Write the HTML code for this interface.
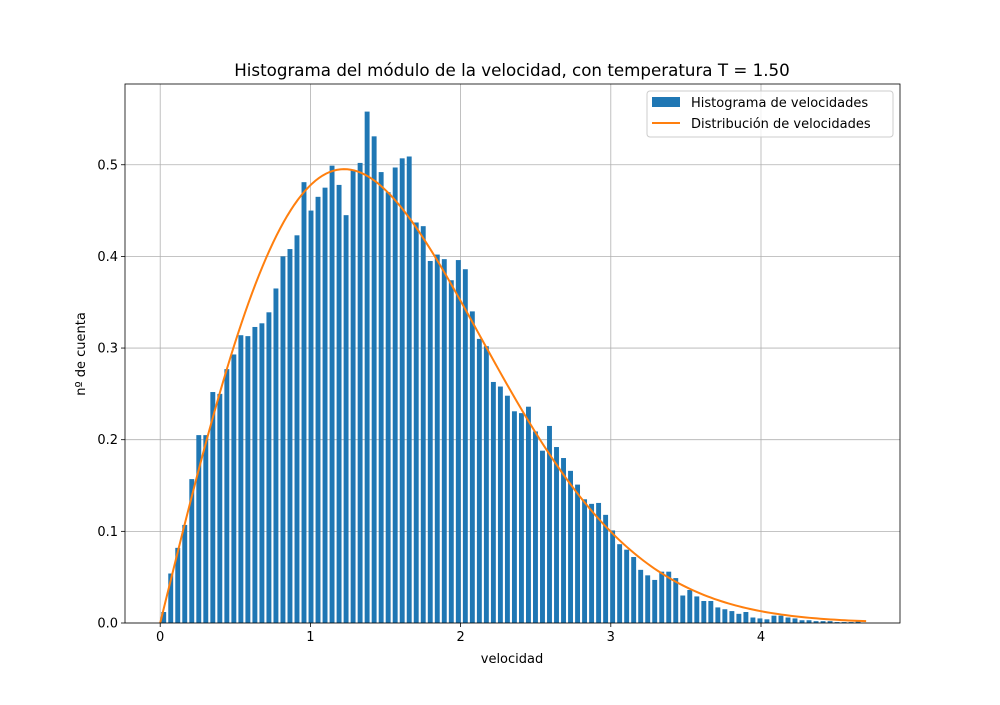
<!DOCTYPE html>
<html><head><meta charset="utf-8"><style>
body{margin:0;background:#fff;font-family:"Liberation Sans","DejaVu Sans",sans-serif}
svg text{font-family:"DejaVu Sans","Liberation Sans",sans-serif;fill:#000}
</style></head><body>
<svg id="chart" width="1000" height="700" xmlns="http://www.w3.org/2000/svg">
<rect width="1000" height="700" fill="#fff"/>
<g id="grid"></g><g id="bars"></g><g id="curve"></g><g id="axes"></g>
<text x="512" y="76" font-size="16.7" text-anchor="middle">Histograma del módulo de la velocidad, con temperatura T = 1.50</text>
<text x="512" y="663" font-size="13" text-anchor="middle">velocidad</text>
<text transform="translate(85,354) rotate(-90)" font-size="13" text-anchor="middle">nº de cuenta</text>
<g>
<rect x="647" y="91" width="246" height="46" fill="#fff" fill-opacity="0.8" stroke="#ccc" rx="3"/>
<rect x="652" y="97" width="28" height="10" fill="#1f77b4"/>
<text x="691" y="107" font-size="13">Histograma de velocidades</text>
<line x1="652" y1="123" x2="680" y2="123" stroke="#ff7f0e" stroke-width="2"/>
<text x="691" y="128" font-size="13">Distribución de velocidades</text>
</g>
</svg>
<script>
const binWidth = 0.0467;
const counts = [0.012,0.054,0.082,0.107,0.157,0.205,0.205,0.252,0.25,0.277,0.293,0.314,0.313,0.323,0.327,0.339,0.365,0.4,0.408,0.423,0.481,0.45,0.465,0.475,0.499,0.478,0.445,0.494,0.502,0.558,0.531,0.492,0.47,0.497,0.507,0.509,0.437,0.433,0.395,0.402,0.397,0.374,0.396,0.386,
0.34,0.31,0.302,0.263,0.258,0.248,0.231,0.229,0.236,0.209,0.188,0.215,0.192,0.18,0.166,0.151,0.135,0.13,0.131,0.118,
0.101,0.086,0.08,0.072,0.058,0.052,0.047,0.056,0.056,0.049,0.03,0.036,0.029,0.024,0.024,0.017,0.015,0.013,0.01,0.012,0.006,0.005,0.004,0.008,0.008,0.006,0.005,0.003,0.003,0.002,0.002,0.002,0.001,0.001,0.001,0.002];
const temperature = 1.5;
const curveMax = 4.7;
const xTicks = [0,1,2,3,4];
const yTicks = [0,0.1,0.2,0.3,0.4,0.5];
const yTickLabels = ["0.0","0.1","0.2","0.3","0.4","0.5"];

const L=125,R=900,T=84,B=623;
const X=v=>160.2+v*150.2;
const Y=v=>623-v*916.5;
const NS="http://www.w3.org/2000/svg";
function mk(tag,attrs,parent){const e=document.createElementNS(NS,tag);for(const k in attrs)e.setAttribute(k,attrs[k]);document.getElementById(parent).appendChild(e);return e;}

xTicks.forEach(t=>{const l=mk('line',{x1:X(t),x2:X(t),y1:T,y2:B,stroke:'#b0b0b0','stroke-width':0.8},'grid');

});
yTicks.forEach(t=>{const l=mk('line',{x1:L,x2:R,y1:Y(t),y2:Y(t),stroke:'#b0b0b0','stroke-width':0.8},'grid');

});

counts.forEach((c,i)=>{const x0=X(i*binWidth+binWidth*0.15),x1=X((i+0.85)*binWidth);
const r=mk('rect',{x:x0,y:Y(c),width:x1-x0,height:Y(0)-Y(c),fill:'#1f77b4'},'bars');

});

let d='';for(let k=0;k<=200;k++){const v=curveMax*k/200;const f=v/temperature*Math.exp(-v*v/(2*temperature));d+=(k?'L':'M')+X(v).toFixed(2)+','+Y(f).toFixed(2);}
const p=mk('path',{d:d,fill:'none',stroke:'#ff7f0e','stroke-width':2},'curve');



const fr=mk('rect',{x:L,y:T,width:R-L,height:B-T,fill:'none',stroke:'#000','stroke-width':0.8},'axes');


xTicks.forEach(t=>{mk('line',{x1:X(t),x2:X(t),y1:B,y2:B+4,stroke:'#000','stroke-width':0.8},'axes');
const tx=mk('text',{x:X(t),y:B+18,'font-size':13,'text-anchor':'middle'},'axes');tx.textContent=t;

});
yTicks.forEach((t,i)=>{mk('line',{x1:L-4,x2:L,y1:Y(t),y2:Y(t),stroke:'#000','stroke-width':0.8},'axes');
const tx=mk('text',{x:L-7,y:Y(t)+4.5,'font-size':13,'text-anchor':'end'},'axes');tx.textContent=yTickLabels[i];

});
</script>
</body></html>
